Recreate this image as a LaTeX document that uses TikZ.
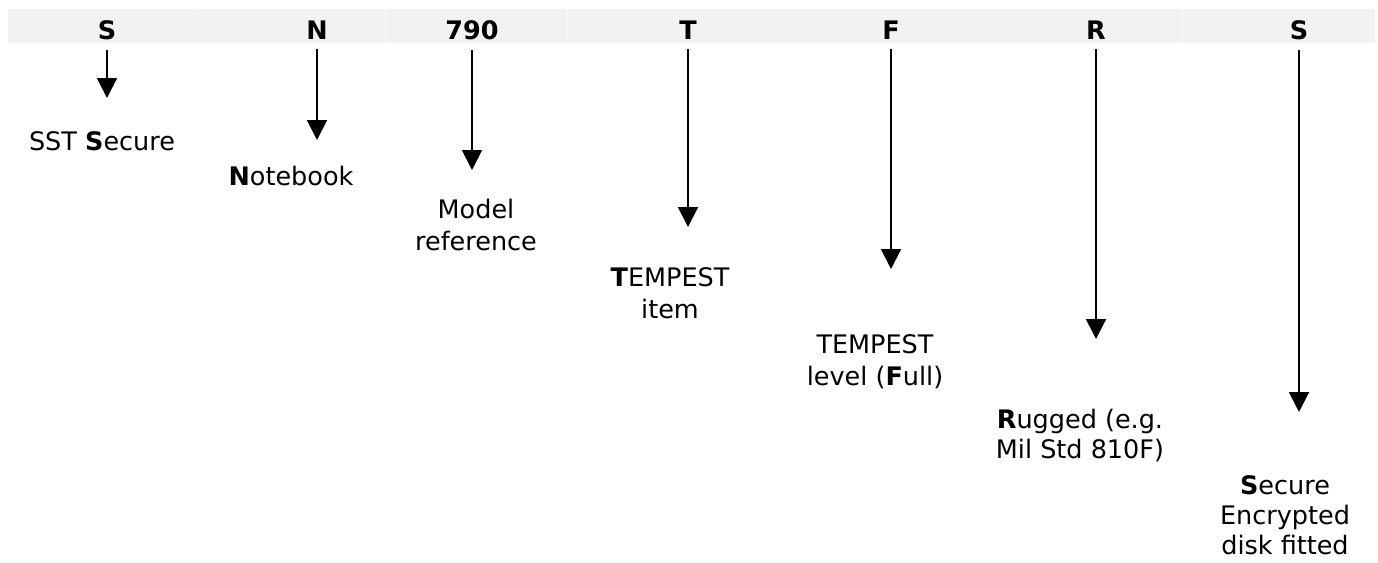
\documentclass[tikz,border=0pt]{standalone}
\usepackage{fontspec}
\setmainfont{DejaVu Sans}
\usetikzlibrary{arrows.meta}
\definecolor{bandgray}{HTML}{F2F2F2}
\definecolor{sepgray}{HTML}{F8F8F8}
\tikzstyle{hd}=[inner sep=0pt,anchor=base,font=\fontsize{25.5}{30}\selectfont\bfseries]
\tikzstyle{lb}=[inner sep=0pt,anchor=north,align=center,font=\fontsize{25.5}{32}\selectfont]
\tikzstyle{lbt}=[lb,font=\fontsize{25.5}{30}\selectfont]
\tikzstyle{ar}=[line width=2pt,shorten <=10pt,-{Triangle[width=20pt,length=20pt]}]

\begin{document}
\begin{tikzpicture}[x=1pt,y=-1pt]
\useasboundingbox (0,0) rectangle (1378,562);
\fill[bandgray] (8,9) rectangle (1375,43);
\draw[sepgray] (197,9) -- (197,43);
\draw[sepgray] (385,9) -- (385,43);
\draw[sepgray] (567,9) -- (567,43);
\draw[sepgray] (1182,9) -- (1182,43);
% code letters
\node[hd] (hS) at (107,39) {S};
\node[hd] (hN) at (317,39) {N};
\node[hd] (h790) at (472,39) {790};
\node[hd] (hT) at (688,39) {T};
\node[hd] (hF) at (891,39) {F};
\node[hd] (hR) at (1096,39) {R};
\node[hd] (hSe) at (1299,39) {S};
% arrow tips
\coordinate (tS) at (107,98);
\coordinate (tN) at (317,140);
\coordinate (t790) at (472,170);
\coordinate (tT) at (688,227);
\coordinate (tF) at (891,269);
\coordinate (tR) at (1096,339);
\coordinate (tSe) at (1299,412);
\draw[ar] (hS.south) -- (tS);
\draw[ar] (hN.south) -- (tN);
\draw[ar] (h790.south) -- (t790);
\draw[ar] (hT.south) -- (tT);
\draw[ar] (hF.south) -- (tF);
\draw[ar] (hR.south) -- (tR);
\draw[ar] (hSe.south) -- (tSe);
% meanings
\node[lb] (lS) at (102,131) {SST \textbf{S}ecure};
\node[lb] (lN) at (291,166) {\textbf{N}otebook};
\node[lb] (l790) at (476,199) {Model\\reference};
\node[lb] (lT) at (670,267) {\textbf{T}EMPEST\\item};
\node[lb] (lF) at (875,334) {TEMPEST\\level (\textbf{F}ull)};
\node[lbt] (lR) at (1080,409) {\textbf{R}ugged (e.g.\\Mil Std 810F)};
\node[lbt] (lSe) at (1285,475) {\textbf{S}ecure\\Encrypted\\disk fitted};
\end{tikzpicture}
\end{document}
